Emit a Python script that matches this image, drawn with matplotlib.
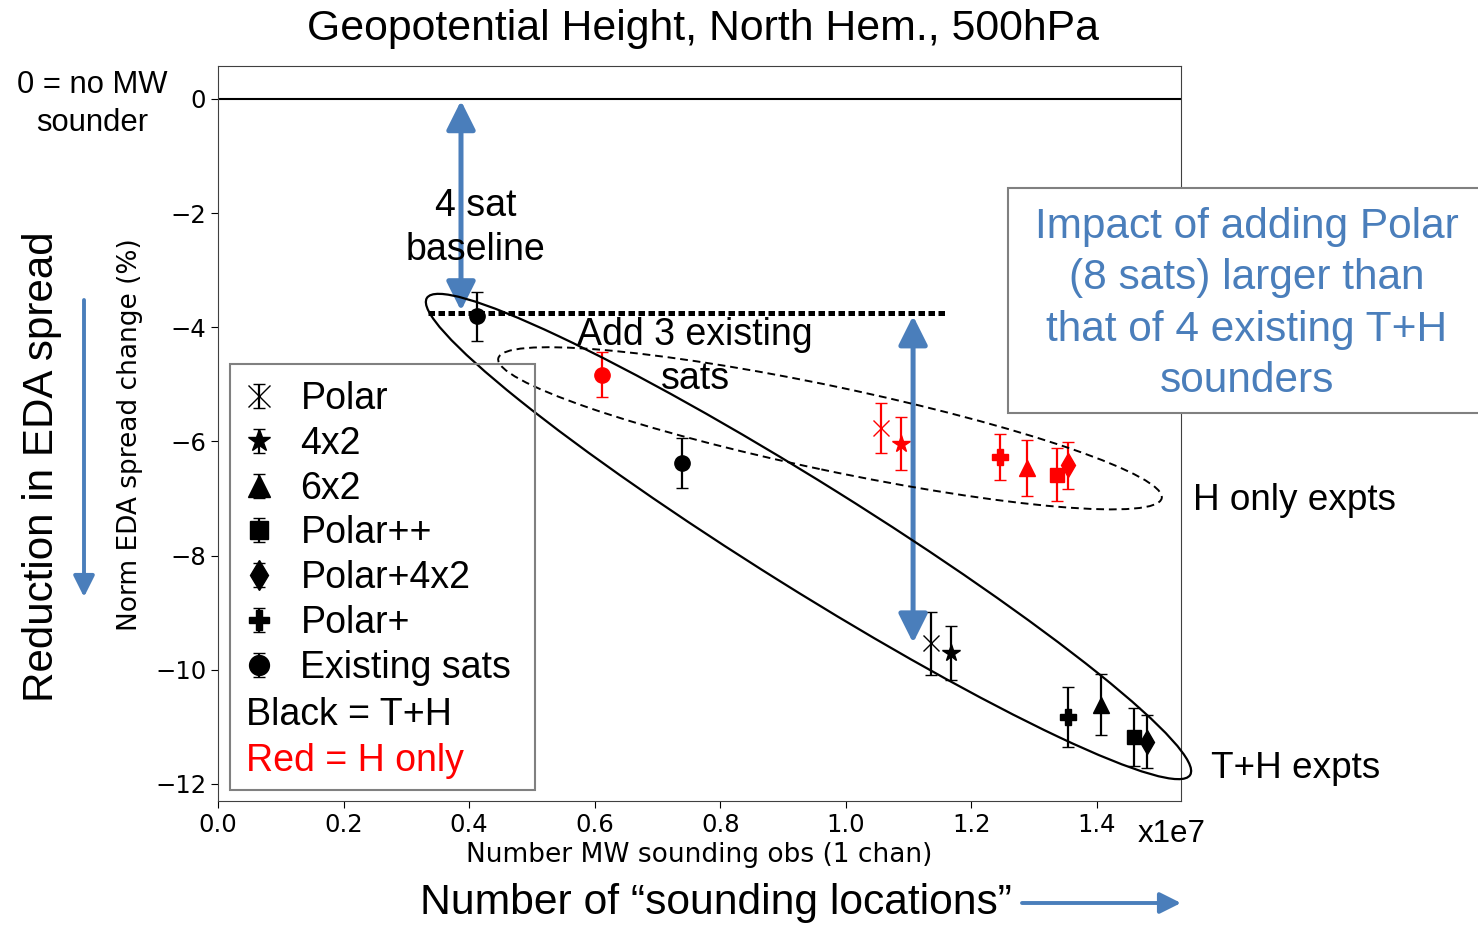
"""Norm EDA spread change vs number of MW sounding obs, Geopotential Height NH 500hPa."""

import matplotlib

matplotlib.use("Agg")

import matplotlib.pyplot as plt
from matplotlib.legend_handler import HandlerErrorbar
from matplotlib.patches import Ellipse, Rectangle
from matplotlib.transforms import IdentityTransform

W, H = 1478, 925
BLUE = "#4a7ebb"
ARIAL = "Liberation Sans"

# legend order
EXPTS = ["Polar", "4x2", "6x2", "Polar++", "Polar+4x2", "Polar+", "Existing sats"]

# T+H experiments (black), x in units of 1e7 obs
th_expt = ["Existing sats", "Existing sats", "Polar", "4x2", "Polar+", "6x2", "Polar++", "Polar+4x2"]
th_obs = [0.413, 0.739, 1.135, 1.167, 1.354, 1.407, 1.459, 1.480]
th_change = [-3.81, -6.38, -9.54, -9.71, -10.83, -10.61, -11.18, -11.26]
th_err = [0.43, 0.44, 0.56, 0.47, 0.53, 0.53, 0.51, 0.47]

# H only experiments (red)
h_expt = ["Existing sats", "Polar", "4x2", "Polar+", "6x2", "Polar++", "Polar+4x2"]
h_obs = [0.611, 1.056, 1.087, 1.246, 1.289, 1.337, 1.354]
h_change = [-4.83, -5.77, -6.04, -6.27, -6.47, -6.58, -6.42]
h_err = [0.40, 0.44, 0.46, 0.40, 0.49, 0.46, 0.41]

MARKER = {
    "Polar": ("x", 12),
    "4x2": ("*", 13),
    "6x2": ("^", 12),
    "Polar++": ("s", 10.5),
    "Polar+4x2": ("d", 12),
    "Polar+": ("P", 11),
    "Existing sats": ("o", 11),
}


def fig_xy(x, y):
    """image pixel (y down) -> figure fraction"""
    return x / W, 1 - y / H


def main() -> None:
    fig = plt.figure(figsize=(W / 100, H / 100), dpi=100)
    ax = fig.add_axes([218 / W, 1 - 801 / H, (1181 - 218) / W, (801 - 66) / H])
    ax.set_xlim(0, 1.5337)
    ax.set_ylim(-12.30, 0.578)

    ax.axhline(0, color="k", lw=1.5)

    handles = {}
    for expts, xs, ys, errs, colour in [
        (th_expt, th_obs, th_change, th_err, "k"),
        (h_expt, h_obs, h_change, h_err, "red"),
    ]:
        for name, x, y, e in zip(expts, xs, ys, errs):
            marker, ms = MARKER[name]
            cont = ax.errorbar(
                x, y, yerr=e, fmt=marker, color=colour, ms=ms, mew=1.0,
                capsize=4, elinewidth=1.6, capthick=1.3, zorder=4,
            )
            if colour == "k" and name not in handles:
                handles[name] = cont

    ax.set_xticks([0.0, 0.2, 0.4, 0.6, 0.8, 1.0, 1.2, 1.4])
    ax.set_xticklabels([f"{t:.1f}" for t in ax.get_xticks()])
    ax.set_yticks(range(-12, 1, 2))
    ax.tick_params(labelsize=17.5, length=5)
    for spine in ax.spines.values():
        spine.set_color("#404040")

    # baseline of existing sats (dotted)
    ax.plot([0.334, 1.163], [-3.75, -3.75], color="k", lw=3.6,
            linestyle=(0, (1.3, 0.7)), zorder=3)

    arrow = dict(arrowstyle="<|-|>,head_length=0.8,head_width=0.4",
                 color=BLUE, lw=3.6, mutation_scale=22, shrinkA=0, shrinkB=0)
    ax.annotate("", xy=(0.387, -3.71), xytext=(0.387, -0.03), arrowprops=arrow, zorder=5)
    ax.annotate("", xy=(1.107, -9.53), xytext=(1.107, -3.80), arrowprops=arrow, zorder=5)

    ax.text(0.410, -2.26, "4 sat\nbaseline", fontsize=27, family=ARIAL,
            ha="center", va="center", linespacing=1.3, zorder=6)
    ax.text(0.760, -4.52, "Add 3 existing\nsats", fontsize=27, family=ARIAL,
            ha="center", va="center", linespacing=1.3, zorder=6)

    # ellipses grouping the experiments (pixel space, y up)
    fig.add_artist(Ellipse((808.5, H - 536.5), 900, 106, angle=-32.0,
                           transform=IdentityTransform(), fill=False,
                           ec="k", lw=1.6, zorder=3))
    fig.add_artist(Ellipse((830, H - 428.3), 678, 84, angle=-11.9,
                           transform=IdentityTransform(), fill=False,
                           ec="k", lw=1.4, ls=(0, (4, 2.5)), zorder=3))

    # legend
    leg = ax.legend(
        [handles[n] for n in EXPTS], EXPTS,
        loc="upper left", bbox_to_anchor=fig_xy(246, 381), bbox_transform=fig.transFigure,
        frameon=False, borderpad=0, borderaxespad=0, handlelength=0.7,
        handletextpad=0.75, labelspacing=0.235, markerscale=1.3,
        prop={"family": ARIAL, "size": 27},
        handler_map={type(handles["Polar"]): HandlerErrorbar(yerr_size=0.32)},
    )
    leg.set_zorder(6)
    fig.add_artist(Rectangle(fig_xy(230, 790), (535 - 230) / W, (790 - 364) / H,
                             transform=fig.transFigure, fill=False,
                             ec="#808080", lw=1.5, zorder=6))
    fig.text(*fig_xy(246, 715), "Black = T+H", fontsize=27, family=ARIAL, va="center")
    fig.text(*fig_xy(246, 761), "Red = H only", fontsize=27, family=ARIAL,
             va="center", color="red")

    # box with blue text
    fig.add_artist(Rectangle(fig_xy(1008, 413), (1490 - 1008) / W, (413 - 188) / H,
                             transform=fig.transFigure, fc="white",
                             ec="#808080", lw=1.5, zorder=7))
    fig.text(*fig_xy(1247, 304), "Impact of adding Polar\n(8 sats) larger than\n"
             "that of 4 existing T+H\nsounders", fontsize=30.5, family=ARIAL,
             color=BLUE, ha="center", va="center", linespacing=1.36, zorder=8)

    fig.text(*fig_xy(703, 29), "Geopotential Height, North Hem., 500hPa",
             fontsize=30.8, family=ARIAL, ha="center", va="center")
    fig.text(*fig_xy(92, 104), "0 = no MW\nsounder", fontsize=22.3, family=ARIAL,
             ha="center", va="center", linespacing=1.38)
    fig.text(*fig_xy(1193, 501), "H only expts", fontsize=26.6, family=ARIAL, va="center")
    fig.text(*fig_xy(1211, 769), "T+H expts", fontsize=26.6, family=ARIAL, va="center")
    fig.text(*fig_xy(1138, 834), "x1e7", fontsize=22.5, family=ARIAL, va="center")

    fig.text(*fig_xy(699, 855), "Number MW sounding obs (1 chan)", fontsize=19,
             ha="center", va="center")
    fig.text(*fig_xy(130, 435), "Norm EDA spread change (%)", fontsize=19,
             rotation=90, ha="center", va="center")

    fig.text(*fig_xy(42, 467), "Reduction in EDA spread", fontsize=30.3, family=ARIAL,
             rotation=90, ha="center", va="center")
    fig.text(*fig_xy(716, 903), "Number of \u201csounding locations\u201d", fontsize=30.7,
             family=ARIAL, ha="center", va="center")

    side = dict(arrowstyle="-|>,head_length=0.8,head_width=0.4", color=BLUE,
                lw=2.8, mutation_scale=16, shrinkA=0, shrinkB=0)
    ax.annotate("", xy=(84, H - 597), xytext=(84, H - 300), xycoords="figure pixels",
                textcoords="figure pixels", arrowprops=side, annotation_clip=False)
    ax.annotate("", xy=(1181, H - 903), xytext=(1022, H - 903), xycoords="figure pixels",
                textcoords="figure pixels", arrowprops=side, annotation_clip=False)

    fig.savefig("out.png", dpi=100)
    plt.close(fig)


if __name__ == "__main__":
    main()
